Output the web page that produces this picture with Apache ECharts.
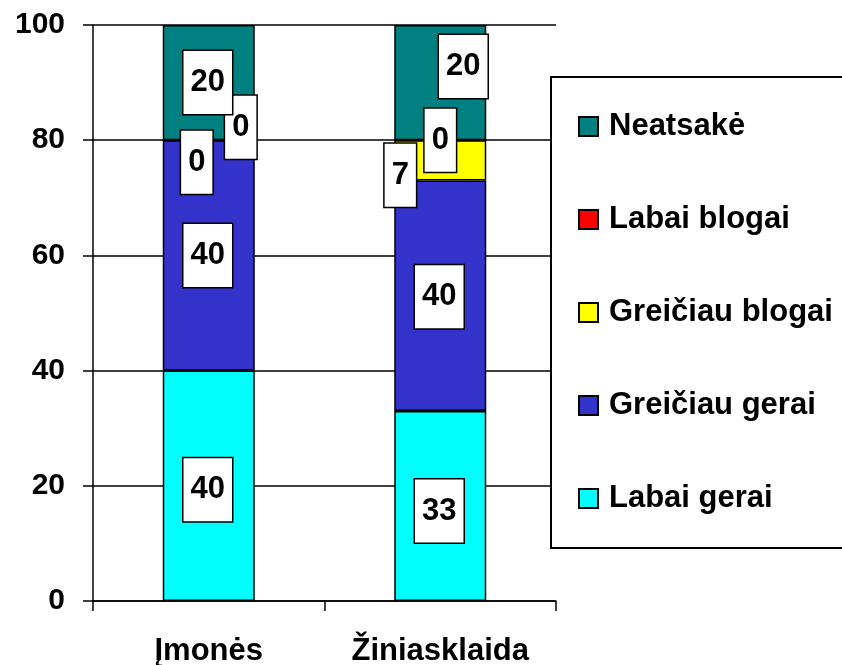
<!DOCTYPE html>
<html>
<head>
<meta charset="utf-8">
<script src="https://cdn.jsdelivr.net/npm/echarts@6/dist/echarts.min.js"></script>
<style>
  html, body { margin: 0; padding: 0; background: #fff; }
  #chart { width: 842px; height: 665px; }
</style>
</head>
<body>
<div id="chart"></div>
<script>
// kategorijos
const categories = ['Įmonės', 'Žiniasklaida']
const yTicks = [0, 20, 40, 60, 80, 100]

// serijų reikšmės (apačia -> viršus)
const labaiGerai = [40, 33]
const greiciauGerai = [40, 40]
const greiciauBlogai = [0, 7]
const labaiBlogai = [0, 0]
const neatsake = [20, 20]

// etikečių poslinkiai, kad nesusiklotų (kaip Excel'yje)
const offsLabaiGerai = [[-1, 4], [-1, 5]]
const offsGreiciauGerai = [[-1, 0], [-1, 1]]
const offsGreiciauBlogai = [[-12, 22], [-40, 15]]
const offsLabaiBlogai = [[32, -13], [0, 0]]
const offsNeatsake = [[-1, 0], [23, -16]]

const FONT = '"Liberation Sans", Arial, sans-serif'

function withOffsets(values, offs) {
  return values.map((v, i) => ({ value: v, label: { offset: offs[i] } }))
}

function makeSeries(name, color, values, offs) {
  return {
    name: name,
    type: 'bar',
    stack: 'total',
    barWidth: 92,
    itemStyle: { color: color, borderColor: '#000', borderWidth: 1.5 },
    label: {
      show: true,
      position: 'inside',
      color: '#000',
      fontFamily: FONT,
      fontWeight: 'bold',
      fontSize: 31,
      lineHeight: 31,
      backgroundColor: '#fff',
      borderColor: '#000',
      borderWidth: 1.5,
      padding: [16, 7]
    },
    data: withOffsets(values, offs)
  }
}

const option = {
  animation: false,
  backgroundColor: '#fff',
  // grid fiksuotas, kad apatinės etiketės jo nespaustų
  grid: { left: 93, right: 286, top: 25, bottom: 64, outerBoundsMode: 'none', containLabel: false },
  legend: {
    orient: 'vertical',
    left: 551,
    top: 77,
    data: ['Neatsakė', 'Labai blogai', 'Greičiau blogai', 'Greičiau gerai', 'Labai gerai'],
    icon: 'rect',
    itemWidth: 19,
    itemHeight: 19,
    itemGap: 62,
    padding: [34, 120, 34, 27],
    borderColor: '#000',
    borderWidth: 2,
    backgroundColor: '#fff',
    textStyle: {
      color: '#000',
      fontFamily: FONT,
      fontWeight: 'bold',
      fontSize: 31,
      lineHeight: 31,
      padding: [0, 0, 0, 6]
    }
  },
  xAxis: {
    type: 'category',
    data: categories,
    axisLine: { lineStyle: { color: '#000', width: 1.5 } },
    axisTick: { show: true, length: 10, lineStyle: { color: '#000', width: 1.5 } },
    axisLabel: {
      color: '#000',
      fontFamily: FONT,
      fontWeight: 'bold',
      fontSize: 31,
      margin: 35
    }
  },
  yAxis: {
    type: 'value',
    min: yTicks[0],
    max: yTicks[yTicks.length - 1],
    interval: 20,
    axisLine: { show: true, lineStyle: { color: '#000', width: 1.5 } },
    axisTick: { show: true, length: 10, lineStyle: { color: '#000', width: 1.5 } },
    splitLine: { lineStyle: { color: '#000', width: 1.5 } },
    axisLabel: {
      color: '#000',
      fontFamily: FONT,
      fontWeight: 'bold',
      fontSize: 30,
      margin: 28
    }
  },
  series: [
    makeSeries('Labai gerai', '#00FFFF', labaiGerai, offsLabaiGerai),
    makeSeries('Greičiau gerai', '#3333CC', greiciauGerai, offsGreiciauGerai),
    makeSeries('Greičiau blogai', '#FFFF00', greiciauBlogai, offsGreiciauBlogai),
    makeSeries('Labai blogai', '#FF0000', labaiBlogai, offsLabaiBlogai),
    makeSeries('Neatsakė', '#008080', neatsake, offsNeatsake)
  ]
}

const myChart = echarts.init(document.getElementById('chart'))
myChart.setOption(option)
</script>
</body>
</html>
